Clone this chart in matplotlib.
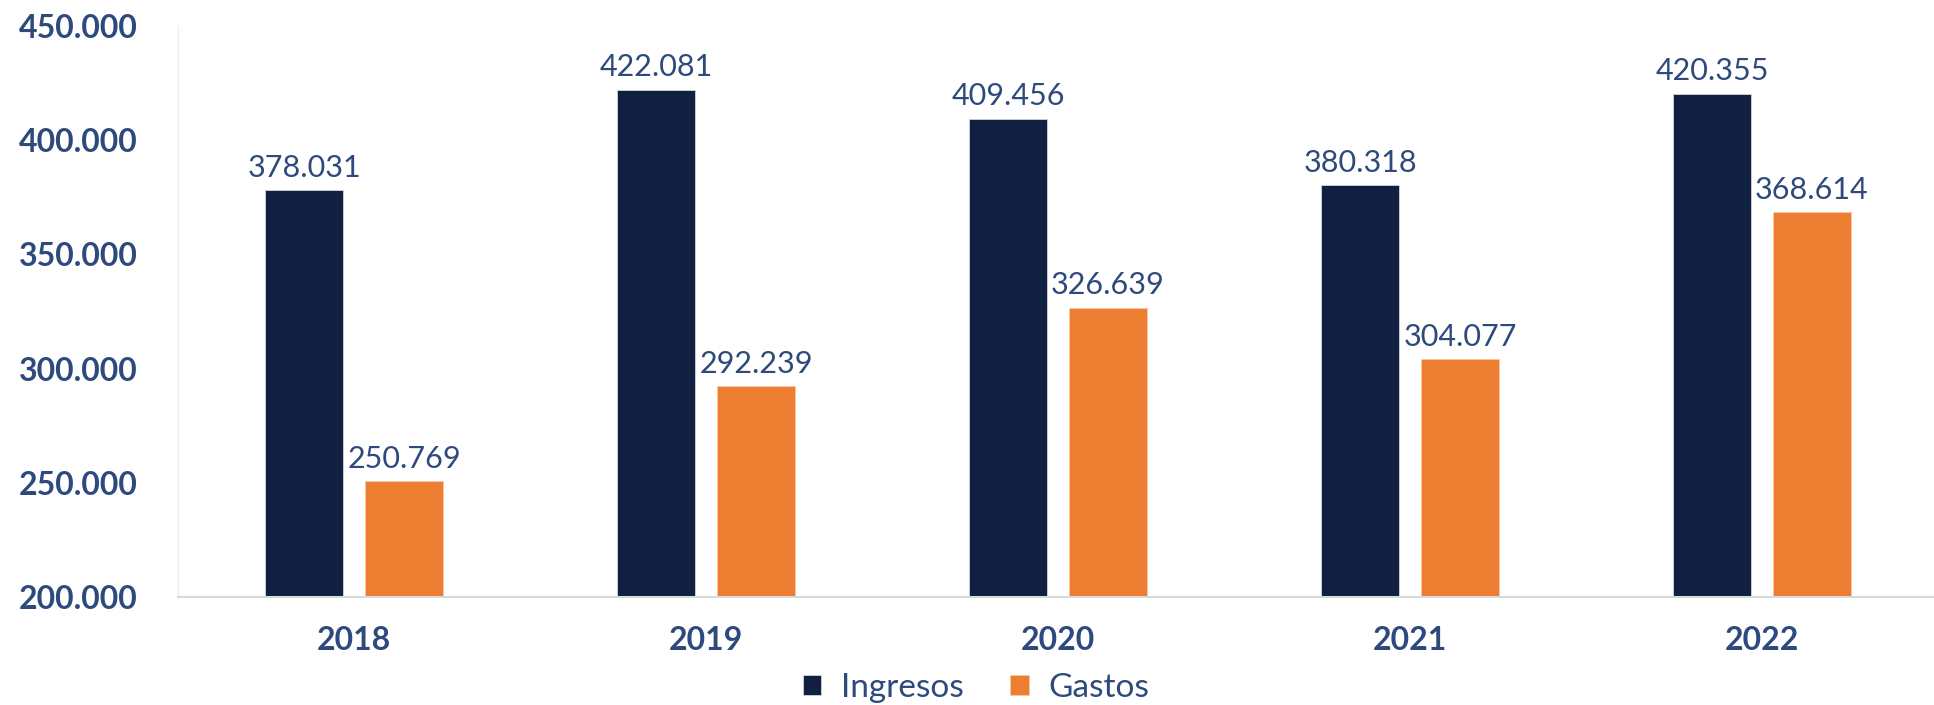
import matplotlib
matplotlib.use("Agg")
import matplotlib.pyplot as plt
import numpy as np
from matplotlib.ticker import FuncFormatter, MultipleLocator

years = ["2018", "2019", "2020", "2021", "2022"]
ingresos = [378031, 422081, 409456, 380318, 420355]
gastos = [250769, 292239, 326639, 304077, 368614]
series_names = ["Ingresos", "Gastos"]

plt.rcParams['font.family'] = ['Lato', 'DejaVu Sans']
text_color = "#2E4A7D"
c_ing = "#111F40"
c_gas = "#ED7D31"

fig = plt.figure(figsize=(19.34, 7.05), dpi=100)
ax = fig.add_axes([178/1934, 108/705, 1760/1934, 571/705])

x = np.arange(len(years))
w = 0.222
off = 0.142
b1 = ax.bar(x - off, ingresos, w, color=c_ing, label=series_names[0], edgecolor="#d0d4dc", linewidth=0.6)
b2 = ax.bar(x + off, gastos, w, color=c_gas, label=series_names[1], edgecolor="#f6c9a8", linewidth=0.6)

fmt = lambda v: f"{int(v):,}".replace(",", ".")
for bars in (b1, b2):
    ax.bar_label(bars, labels=[fmt(b.get_height()) for b in bars], padding=6,
                 fontsize=22, color=text_color)

ax.set_ylim(200000, 450000)
ax.set_xlim(-0.5, 4.5)
ax.yaxis.set_major_locator(MultipleLocator(50000))
ax.yaxis.set_major_formatter(FuncFormatter(lambda v, p: fmt(v)))
ax.set_xticks(x)
ax.set_xticklabels(years)
ax.tick_params(axis='y', length=0, pad=29, labelsize=23, labelcolor=text_color)
ax.tick_params(axis='x', length=0, pad=21, labelsize=23, labelcolor=text_color)
for lab in ax.get_yticklabels() + ax.get_xticklabels():
    lab.set_fontweight('bold')

for s in ['top', 'right']:
    ax.spines[s].set_visible(False)
ax.spines['left'].set_color("#efefef")
ax.spines['left'].set_linewidth(1)
ax.spines['bottom'].set_color("#d9d9d9")
ax.spines['bottom'].set_linewidth(1.5)

leg = fig.legend(handles=[b1, b2], labels=series_names, loc='center',
                 bbox_to_anchor=(976/1934, 1 - 688/705), ncol=2, frameon=False,
                 fontsize=24, handlelength=0.55, handleheight=0.55, handletextpad=0.6,
                 columnspacing=1.4)
for t in leg.get_texts():
    t.set_color(text_color)

fig.savefig("out.png", dpi=100)
